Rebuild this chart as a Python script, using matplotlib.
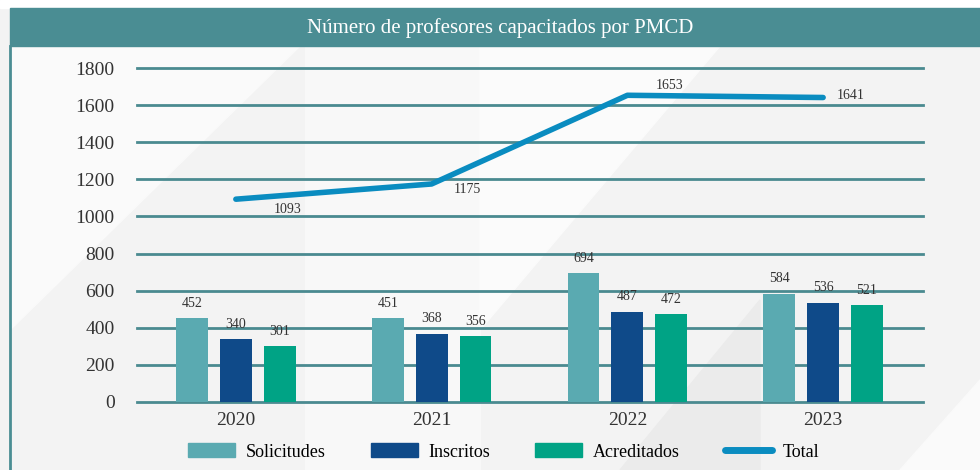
import matplotlib.pyplot as plt
import matplotlib.patches as mpatches
from matplotlib.lines import Line2D
import numpy as np

plt.rcParams['font.family'] = ['Liberation Serif', 'DejaVu Serif']

# Datos
years = ['2020', '2021', '2022', '2023']
solicitudes = [452, 451, 694, 584]
inscritos = [340, 368, 487, 536]
acreditados = [301, 356, 472, 521]
total = [1093, 1175, 1653, 1641]

c_sol = '#5aaab1'
c_ins = '#0f4a89'
c_acr = '#00a385'
c_tot = '#0a8cc0'
c_grid = '#4a8a90'
c_banner = '#4a8d93'

fig = plt.figure(figsize=(9.8, 4.7), dpi=100)
fig.patch.set_facecolor('#f3f3f3')

# fondo con formas diagonales claras
bg = fig.add_axes([0, 0, 1, 1], zorder=-10)
bg.set_xlim(0, 980)
bg.set_ylim(470, 0)
bg.axis('off')
bg.add_patch(mpatches.Rectangle((0, 0), 980, 8, color='white'))
bg.add_patch(mpatches.Polygon([(10, 46), (300, 46), (10, 330)], color='#fafafa'))
bg.add_patch(mpatches.Polygon([(305, 46), (480, 46), (480, 470), (305, 470)], color='#f8f8f8'))
bg.add_patch(mpatches.Polygon([(620, 470), (760, 300), (760, 470)], color='#ebebeb'))
bg.add_patch(mpatches.Polygon([(480, 46), (720, 46), (480, 330)], color='#fbfbfb'))
bg.add_patch(mpatches.Polygon([(900, 470), (980, 380), (980, 470)], color='#fafafa'))
bg.add_patch(mpatches.Rectangle((10, 8), 970, 38, color=c_banner))
bg.plot([10, 10], [46, 470], color=c_banner, lw=2)
bg.text(500, 28, 'Número de profesores capacitados por PMCD', color='white',
        fontsize=15, ha='center', va='center')

ax = fig.add_axes([0.1398, 0.1447, 0.802, 0.7106])
ax.set_facecolor('none')
x = np.arange(len(years))
w = 0.163
off = 0.224

b1 = ax.bar(x - off, solicitudes, w, color=c_sol, zorder=3)
b2 = ax.bar(x, inscritos, w, color=c_ins, zorder=3)
b3 = ax.bar(x + off, acreditados, w, color=c_acr, zorder=3)

for bars in (b1, b2, b3):
    for b in bars:
        ax.text(b.get_x() + b.get_width() / 2, b.get_height() + 45, str(int(b.get_height())),
                ha='center', va='bottom', fontsize=10, color='#333333')

ax.plot(x, total, color=c_tot, lw=4, solid_capstyle='round', zorder=4)
# desplazamientos de etiquetas en pixeles (dx, dy hacia arriba)
label_off = [(52, -10), (36, -6), (42, 10), (28, 2)]
px_x = 196.0
px_y = 1800 / 334.0
for xi, v, (dx, dy) in zip(x, total, label_off):
    ax.text(xi + dx / px_x, v + dy * px_y, str(v), ha='center', va='center',
            fontsize=10, color='#333333')

ax.set_xlim(-0.505, 3.51)
ax.set_ylim(0, 1800)
ax.set_yticks(range(0, 1801, 200))
ax.set_xticks(x)
ax.set_xticklabels(years, fontsize=14)
ax.tick_params(axis='y', labelsize=14, length=0, pad=16, colors='#333333')
ax.tick_params(axis='x', length=0, pad=7, colors='#333333')
for s in ax.spines.values():
    s.set_visible(False)
ax.yaxis.grid(True, color=c_grid, lw=2, zorder=0)
ax.set_axisbelow(True)
for gl in ax.get_ygridlines():
    gl.set_clip_on(False)

handles = [mpatches.Patch(color=c_sol, label='Solicitudes'),
           mpatches.Patch(color=c_ins, label='Inscritos'),
           mpatches.Patch(color=c_acr, label='Acreditados'),
           Line2D([0], [0], color=c_tot, lw=5, solid_capstyle='round', label='Total')]
fig.legend(handles=handles, loc='center', bbox_to_anchor=(0.514, 1 - 452 / 470), ncol=4,
           frameon=False, fontsize=13, handlelength=2.6, handleheight=0.8,
           handletextpad=0.6, columnspacing=2.5)

fig.savefig('out.png', dpi=100, facecolor=fig.get_facecolor())
